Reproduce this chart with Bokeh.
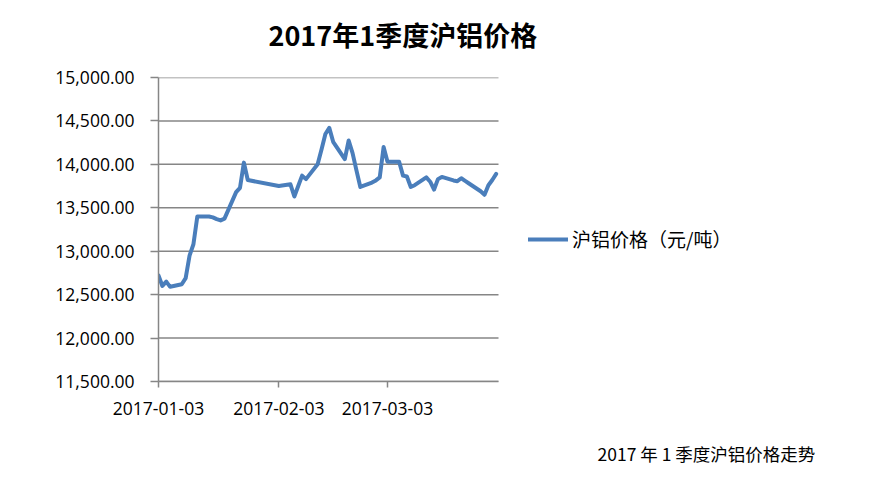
from datetime import datetime, timedelta
from bokeh.plotting import figure
from bokeh.models import (Range1d, FixedTicker, DatetimeTickFormatter, NumeralTickFormatter,
                          Title, Legend, LegendItem, ColumnDataSource)
from bokeh.embed import file_html
from bokeh.resources import INLINE

# ---- data ----
dates = ["2017-01-03", "2017-01-04", "2017-01-05", "2017-01-06", "2017-01-09", "2017-01-10",
         "2017-01-11", "2017-01-12", "2017-01-13", "2017-01-16", "2017-01-17", "2017-01-18",
         "2017-01-19", "2017-01-20", "2017-01-23", "2017-01-24", "2017-01-25", "2017-01-26",
         "2017-02-03", "2017-02-06", "2017-02-07", "2017-02-08", "2017-02-09", "2017-02-10",
         "2017-02-13", "2017-02-14", "2017-02-15", "2017-02-16", "2017-02-17", "2017-02-20",
         "2017-02-21", "2017-02-22", "2017-02-23", "2017-02-24", "2017-02-27", "2017-02-28",
         "2017-03-01", "2017-03-02", "2017-03-03", "2017-03-06", "2017-03-07", "2017-03-08",
         "2017-03-09", "2017-03-10", "2017-03-13", "2017-03-14", "2017-03-15", "2017-03-16",
         "2017-03-17", "2017-03-20", "2017-03-21", "2017-03-22", "2017-03-23", "2017-03-24",
         "2017-03-27", "2017-03-28", "2017-03-29", "2017-03-30", "2017-03-31"]
prices = [12720, 12600, 12650, 12590, 12620, 12690,
          12950, 13080, 13400, 13400, 13390, 13370,
          13355, 13375, 13680, 13730, 14020, 13820,
          13750, 13770, 13630, 13750, 13870, 13830,
          14000, 14170, 14350, 14420, 14260, 14060,
          14275, 14130, 13930, 13740, 13790, 13815,
          13850, 14200, 14030, 14030, 13870, 13860,
          13740, 13760, 13850, 13800, 13710, 13830,
          13855, 13815, 13806, 13840, 13810, 13780,
          13690, 13650, 13760, 13820, 13890]
x_tick_dates = ["2017-01-03", "2017-02-03", "2017-03-03"]
y_ticks = [11500, 12000, 12500, 13000, 13500, 14000, 14500, 15000]
title_text = "2017年1季度沪铝价格"
series_name = "沪铝价格（元/吨）"
footer_text = "2017 年 1 季度沪铝价格走势"

x = [datetime.strptime(d, "%Y-%m-%d") for d in dates]
src = ColumnDataSource(dict(x=x, y=prices))

def ms(dt):
    return (dt - datetime(1970, 1, 1)).total_seconds() * 1000.0

# chart area: 340 px for 87.6 days; the frame continues to the right to hold the legend
x0 = datetime(2017, 1, 3)
x1 = x0 + timedelta(days=87.6)
FRAME_W = 692
x_end = x0 + timedelta(days=87.6 * FRAME_W / 340.0)

p = figure(width=860, height=469, x_axis_type="datetime",
           x_range=Range1d(x0, x_end), y_range=Range1d(11500, 15000),
           output_backend="svg", toolbar_location=None, title=None,
           min_border_left=158, min_border_right=860 - 158 - FRAME_W,
           min_border_top=77, min_border_bottom=88)
p.outline_line_color = None
p.background_fill_color = "white"

grid_col = "#868686"
p.xgrid.grid_line_color = None
p.ygrid.grid_line_color = None
# horizontal gridlines limited to the chart area
p.segment(x0=[x0] * len(y_ticks), x1=[x1] * len(y_ticks), y0=y_ticks, y1=y_ticks,
          line_color=grid_col, line_width=1.5)

r = p.line("x", "y", source=src, line_color="#4A7EBB", line_width=4,
           line_join="round", line_cap="round")

ya = p.yaxis[0]
ya.ticker = FixedTicker(ticks=y_ticks)
ya.formatter = NumeralTickFormatter(format="0,0.00")
ya.axis_line_color = grid_col
ya.axis_line_width = 1.5
ya.major_tick_line_color = grid_col
ya.major_tick_line_width = 1.5
ya.major_tick_out = 8
ya.major_tick_in = 0
ya.minor_tick_line_color = None
ya.major_label_text_font = "Open Sans"
ya.major_label_text_font_size = "17.5px"
ya.major_label_text_color = "black"
ya.major_label_standoff = 16

xa = p.xaxis[0]
xa.bounds = (ms(x0), ms(x1))
xa.ticker = FixedTicker(ticks=[ms(datetime.strptime(d, "%Y-%m-%d")) for d in x_tick_dates])
fmt = "%Y-%m-%d"
xa.formatter = DatetimeTickFormatter(milliseconds=fmt, seconds=fmt, minsec=fmt, minutes=fmt,
                                     hourmin=fmt, hours=fmt, days=fmt, months=fmt, years=fmt)
xa.axis_line_color = grid_col
xa.axis_line_width = 1.5
xa.major_tick_line_color = grid_col
xa.major_tick_line_width = 1.5
xa.major_tick_out = 6
xa.major_tick_in = 0
xa.minor_tick_line_color = None
xa.major_label_text_font = "Open Sans"
xa.major_label_text_font_size = "17.5px"
xa.major_label_text_color = "black"
xa.major_label_standoff = 14

# above: spacer nearest the frame, then the title
p.add_layout(Title(text="\u00a0", text_font_size="1px", standoff=8), "above")
p.add_layout(Title(text=title_text, align="left", offset=110, vertical_align="middle",
                   standoff=24, text_font="Noto Sans CJK SC", text_font_style="bold",
                   text_font_size="27px", text_color="black"), "above")
# below: spacer after the axis, then the footer
p.add_layout(Title(text="\u00a0", text_font_size="1px", standoff=19), "below")
p.add_layout(Title(text=footer_text, align="left", offset=439, vertical_align="middle",
                   standoff=0, text_font="Noto Sans CJK SC", text_font_style="normal",
                   text_font_size="17.5px", text_color="black"), "below")

legend = Legend(items=[LegendItem(label=series_name, renderers=[r])],
                location=(370, 129), orientation="vertical",
                glyph_width=40, glyph_height=20, label_standoff=4,
                padding=0, margin=0, spacing=0,
                border_line_color=None, background_fill_alpha=0,
                label_text_font="Noto Sans CJK SC", label_text_font_size="19px",
                label_text_color="black", label_height=20)
p.add_layout(legend, "center")

open("out.html", "w").write(file_html(p, INLINE))
